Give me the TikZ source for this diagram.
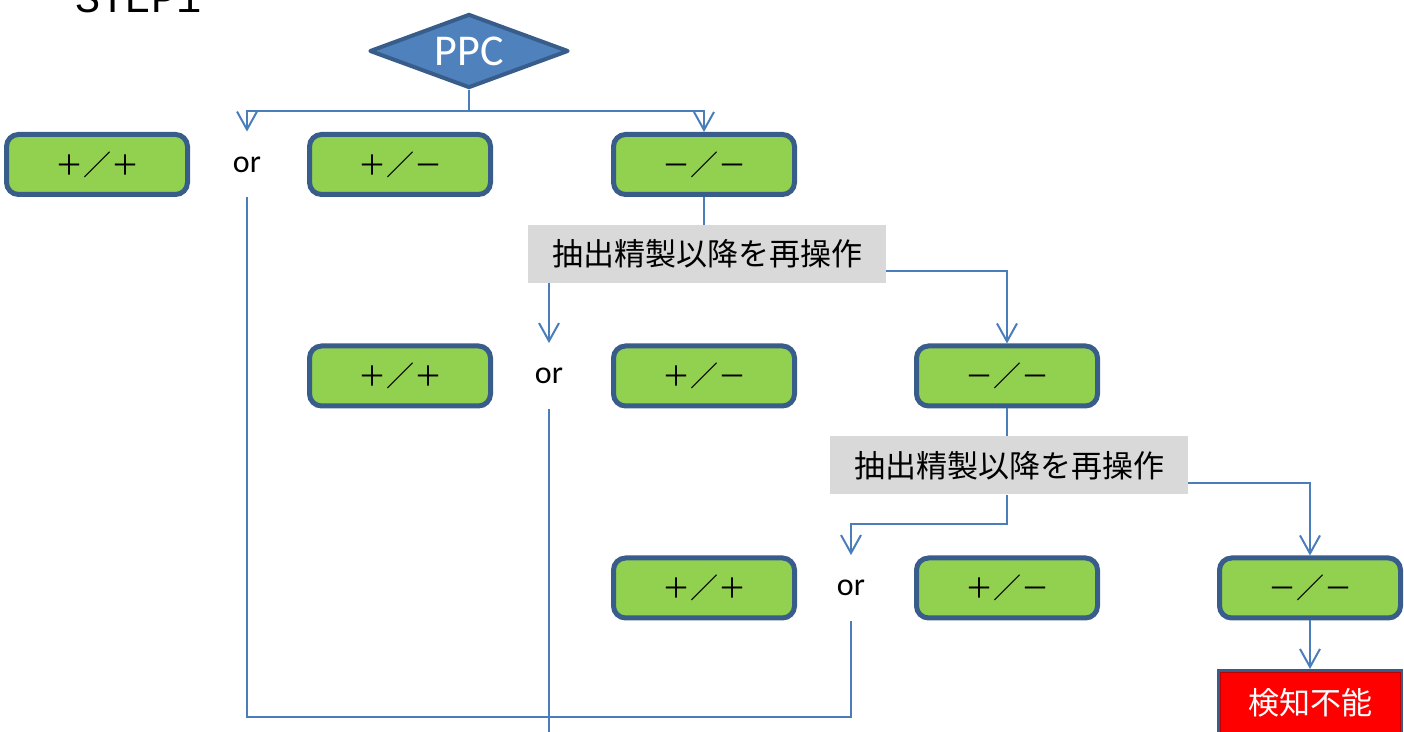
\documentclass[tikz,border=0pt]{standalone}
\usepackage{fontspec}
\setmainfont{Carlito}
\newfontfamily\jpfont{Noto Sans CJK JP}
\newfontfamily\monofont{Liberation Mono}
\usetikzlibrary{shapes.geometric,arrows.meta,calc}
\definecolor{linecol}{HTML}{4A7EBB}
\definecolor{bdr}{HTML}{385D8A}
\definecolor{grn}{HTML}{92D050}
\definecolor{ppcblue}{HTML}{4F81BD}
\definecolor{gry}{HTML}{D9D9D9}
\definecolor{redfill}{HTML}{FF0000}
\tikzset{
  resbox/.style={draw=bdr, line width=2.5pt, fill=grn, rounded corners=6pt,
    minimum width=90.5pt, minimum height=30pt, inner sep=0pt,
    font=\jpfont\fontsize{14pt}{16pt}\selectfont},
  ortext/.style={minimum height=32.5pt, inner sep=0pt,
    font=\fontsize{16pt}{18pt}\selectfont},
  graybox/.style={fill=gry, minimum width=179pt, minimum height=29pt, inner sep=0pt,
    font=\jpfont\fontsize{15.5pt}{18pt}\selectfont},
  ppcshape/.style={diamond, aspect=2.7, draw=bdr, line width=2pt, line join=round,
    fill=ppcblue, text=white, minimum width=99.5pt, minimum height=37pt, inner sep=0pt,
    font=\fontsize{22pt}{24pt}\selectfont},
  redbox/.style={draw=bdr, line width=1.5pt, fill=redfill, text=white,
    minimum width=91.5pt, minimum height=32pt, inner sep=0pt,
    font=\jpfont\fontsize{15.5pt}{18pt}\selectfont},
  conn/.style={draw=linecol, line width=1pt},
  arr/.style={conn, -{Straight Barb[length=9pt,width=10pt]}}
}
\begin{document}
\begin{tikzpicture}[x=0.5pt, y=-0.5pt]
\useasboundingbox (0,0) rectangle (1404,732);
% title (cut off at top)
\node[anchor=base west, inner sep=0pt, font=\monofont\fontsize{21pt}{24pt}\selectfont] (step) at (75,13) {STEP1};
% decision
\node[ppcshape] (ppc) at (469,51) {PPC};
% row 1
\node[resbox] (b11) at (97,164.5) {＋／＋};
\node[ortext] (or1) at (247,164.5) {or};
\node[resbox] (b12) at (400,164.5) {＋／－};
\node[resbox] (b13) at (704,164.5) {－／－};
% gray 1
\node[graybox] (g1) at (707,254) {抽出精製以降を再操作};
% row 2
\node[resbox] (b22) at (400,376) {＋／＋};
\node[ortext] (or2) at (549,376) {or};
\node[resbox] (b23) at (704,376) {＋／－};
\node[resbox] (b24) at (1007,376) {－／－};
% gray 2
\node[graybox] (g2) at (1009,465.5) {抽出精製以降を再操作};
% row 3
\node[resbox] (b33) at (704,588) {＋／＋};
\node[ortext] (or3) at (851,588) {or};
\node[resbox] (b34) at (1007,588) {＋／－};
\node[resbox] (b35) at (1310,588) {－／－};
% result
\node[redbox] (res) at (1310,702.5) {検知不能};
\draw[red!75!black, line width=0.4pt] ($(res.north west)+(3,3)$) rectangle ($(res.south east)+(-3,-3)$);
% helper coordinates
\coordinate (j1) at (469,111);
\coordinate (ybot) at (0,717);
\coordinate (yedge) at (0,745);
% connectors
\draw[conn] (ppc.south) -- (j1);
\draw[arr] (j1) -| (or1.north);
\draw[arr] (j1) -| (b13.north);
\draw[conn] (b13.south) -- (b13.south |- g1.north);
\draw[arr] ($(g1.south east)+(0,-12)$) -| (b24.north);
\draw[arr] (g1.south -| or2) -- (or2.north);
\draw[conn] (b24.south) -- (b24.south |- g2.north);
\draw[arr] ($(g2.south east)+(0,-12)$) -| (b35.north);
\draw[arr] (g2.south -| b24) -- ++(0,29) -| (or3.north);
\draw[arr] (b35.south) -- (res.north);
\draw[conn] (or1.south) -- (or1.south |- ybot) -| (or3.south);
\draw[conn] (or2.south) -- (or2.south |- yedge);
\end{tikzpicture}
\end{document}
